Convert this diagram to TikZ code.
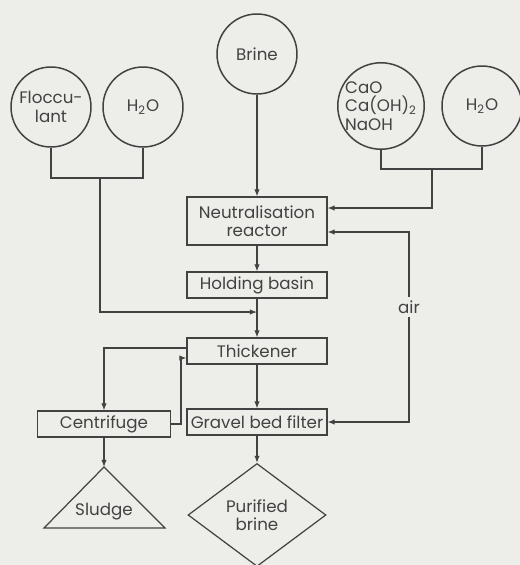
\documentclass[tikz,border=0pt]{standalone}
\usepackage{fontspec}
\setmainfont{Poppins}
\usetikzlibrary{arrows.meta,shapes.geometric}
\definecolor{inkgray}{RGB}{66,66,66}
\definecolor{paper}{RGB}{237,237,234}

\begin{document}
\begin{tikzpicture}[x=0.02cm, y=-0.02cm,
  feed/.style={draw=inkgray, line width=0.85pt, circle, minimum size=1.6cm, inner sep=0pt, align=center},
  unit/.style={draw=inkgray, line width=0.6pt, rectangle, minimum width=2.8cm, minimum height=0.52cm, inner sep=1pt, align=center},
  pipe/.style={inkgray, line width=0.6pt},
  flow/.style={pipe, -{Latex[length=4pt,width=3pt]}},
  font=\fontsize{9.5}{10.5}\selectfont, text=inkgray]
  \fill[paper] (0,0) rectangle (520,565);
  \useasboundingbox (0,0) rectangle (520,565);

  % feeds
  \node[feed] (brine) at (257,54) {Brine};
  \node[feed] (floc) at (51,107) {Floccu-\\lant};
  \node[feed] (wateri) at (143,107) {H\textsubscript{2}O};
  \node[feed, align=left] (lime) at (381,106) {CaO\\Ca(OH)\textsubscript{2}\\NaOH};
  \node[feed] (waterii) at (482,106) {H\textsubscript{2}O};

  % process units
  \node[unit, minimum height=0.96cm] (neutr) at (257,221) {Neutralisation\\reactor};
  \node[unit] (hold) at (257,285) {Holding basin};
  \node[unit] (thick) at (257,351) {Thickener};
  \node[unit, minimum width=2.66cm] (centr) at (104,424) {Centrifuge};
  \node[unit] (gravel) at (257,422) {Gravel bed filter};

  % products
  \coordinate (sludgetop) at (104,467);
  \draw[pipe, line width=0.7pt] (sludgetop) -- (44,528) -- (165,528) -- cycle;
  \node (sludge) at (104,512) {Sludge};
  \node[draw=inkgray, line width=0.7pt, diamond, minimum width=2.76cm, minimum height=2.06cm, inner sep=0pt, align=center] (pure) at (257,515) {Purified\\brine};

  % junctions
  \coordinate (jfloc) at (100,178);
  \coordinate (jlime) at (432,169);
  \coordinate (jmain) at (257,312);
  \node[inner sep=2pt] (air) at (409,307) {air};

  % main line
  \draw[flow] (brine) -- (neutr);
  \draw[flow] (neutr) -- (hold);
  \draw[flow] (hold) -- (thick);
  \draw[flow] (thick) -- (gravel);
  \draw[flow] (gravel) -- (pure);

  % flocculant feed
  \draw[pipe] (floc.south) |- (jfloc) -| (wateri.south);
  \draw[flow] (jfloc) |- (jmain);

  % lime feed
  \draw[pipe] (lime.south) |- (jlime) -| (waterii.south);
  \draw[flow] (jlime) |- ([yshift=0.26cm]neutr.east);

  % air
  \draw[flow] (air.north) |- ([yshift=-0.22cm]neutr.east);
  \draw[flow] (air.south) |- (gravel.east);

  % sludge loop
  \draw[flow] ([yshift=0.06cm]thick.west) -| (centr.north);
  \draw[flow] (centr.east) -- ++(10,0) |- ([yshift=-0.14cm]thick.west);
  \draw[flow] (centr.south) -- (sludgetop);
\end{tikzpicture}
\end{document}
